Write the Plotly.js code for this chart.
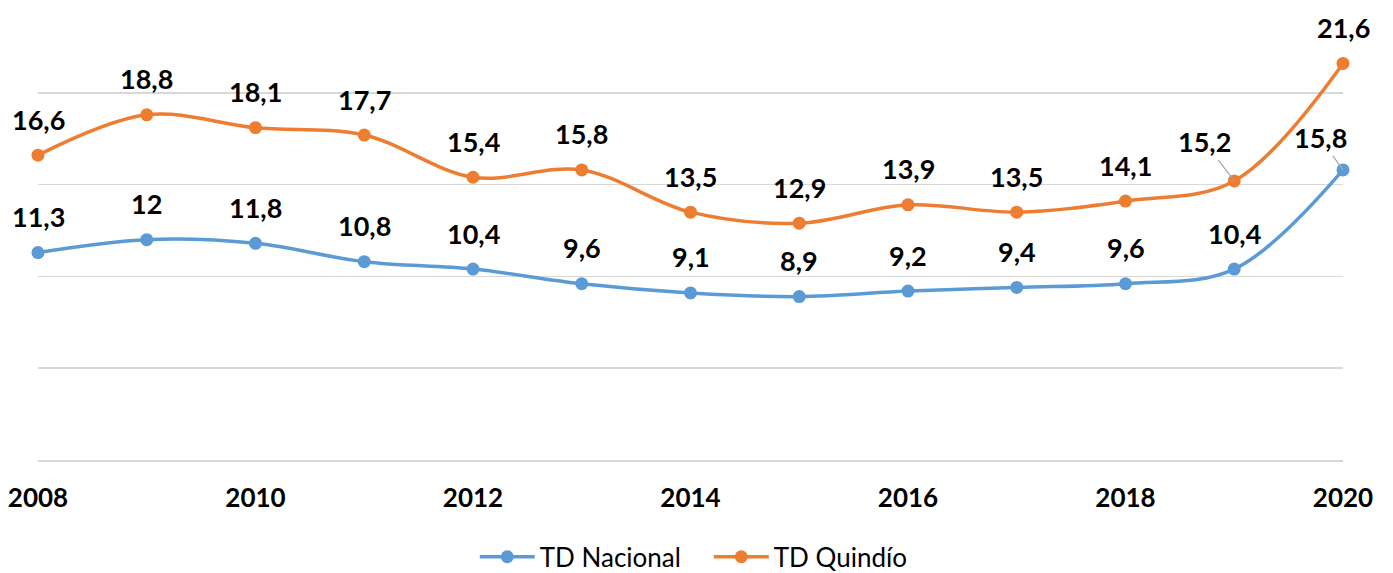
<!DOCTYPE html>
<html>
<head>
<meta charset="utf-8">
<script src="https://cdn.plot.ly/plotly-3.0.1.min.js"></script>
<style>html,body{margin:0;padding:0;background:#fff;}#chart{width:1393px;height:573px;}</style>
</head>
<body>
<div id="chart"></div>
<script>
const years = [2008,2009,2010,2011,2012,2013,2014,2015,2016,2017,2018,2019,2020];
const nacional = [11.3,12,11.8,10.8,10.4,9.6,9.1,8.9,9.2,9.4,9.6,10.4,15.8];
const quindio = [16.6,18.8,18.1,17.7,15.4,15.8,13.5,12.9,13.9,13.5,14.1,15.2,21.6];
const tickYears = [2008,2010,2012,2014,2016,2018,2020];
const tickLabels = ['2008','2010','2012','2014','2016','2018','2020'];
const seriesNames = ['TD Nacional','TD Quindío'];

const BLUE = '#5B9BD5', ORANGE = '#ED7D31';
const FONT = 'Lato, "Liberation Sans", sans-serif';

function fmt(v){ return String(v).replace('.', ','); }

const traces = [
  {x: years, y: nacional, name: seriesNames[0], mode: 'lines+markers',
   line: {color: BLUE, width: 3.5, shape: 'spline', smoothing: 1},
   marker: {color: BLUE, size: 13}, cliponaxis: false},
  {x: years, y: quindio, name: seriesNames[1], mode: 'lines+markers',
   line: {color: ORANGE, width: 3.5, shape: 'spline', smoothing: 1},
   marker: {color: ORANGE, size: 13}, cliponaxis: false}
];

// leader-line labels: [series index, point index, ax, ay]
const leaders = [[1, 11, -30, -39], [0, 12, -23, -32]];

const annotations = [];
[nacional, quindio].forEach((vals, s) => {
  vals.forEach((v, i) => {
    const lead = leaders.find(l => l[0] === s && l[1] === i);
    const a = {x: years[i], y: v, xref: 'x', yref: 'y', text: fmt(v),
      font: {family: FONT, size: 27, color: '#000', weight: 'bold'}};
    if (lead) {
      Object.assign(a, {showarrow: true, arrowhead: 0, arrowwidth: 1.2,
        arrowcolor: '#A6A6A6', ax: lead[2], ay: lead[3], standoff: 0});
    } else {
      Object.assign(a, {showarrow: false, xanchor: 'center', yanchor: 'middle', yshift: 36});
    }
    annotations.push(a);
  });
});

const layout = {
  width: 1393, height: 573,
  margin: {l: 38, r: 50, t: 1, b: 113, autoexpand: false},
  paper_bgcolor: '#fff', plot_bgcolor: '#fff',
  showlegend: true,
  legend: {orientation: 'h', x: 0.514, xanchor: 'center', y: -0.211, yanchor: 'middle',
    font: {family: FONT, size: 26, color: '#000'}, itemwidth: 55, traceorder: 'normal',
    entrywidth: 164},
  xaxis: {range: [2008, 2020], tickvals: tickYears, ticktext: tickLabels,
    showgrid: false, zeroline: false, showline: true, linecolor: '#D9D9D9', linewidth: 1.5,
    ticks: '', ticklabelstandoff: 14,
    tickfont: {family: FONT, size: 26, color: '#000', weight: 'bold'}},
  yaxis: {range: [0, 25], dtick: 5, showticklabels: false, showgrid: true,
    gridcolor: '#D9D9D9', gridwidth: 1.5, zeroline: false, showline: false, ticks: ''},
  annotations: annotations,
  font: {family: FONT}
};

Plotly.newPlot('chart', traces, layout, {displayModeBar: false, staticPlot: true});
</script>
</body>
</html>
